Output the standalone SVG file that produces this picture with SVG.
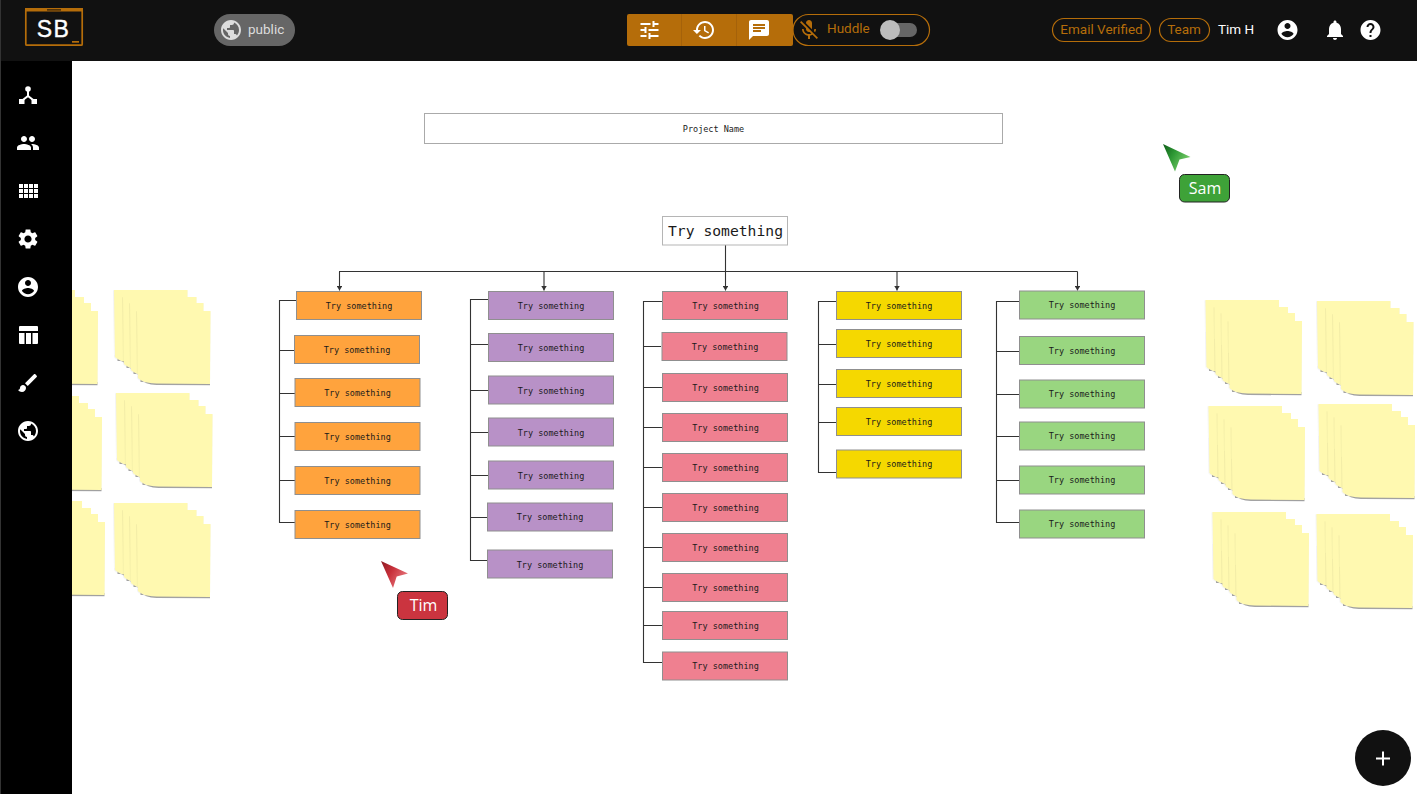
<svg xmlns="http://www.w3.org/2000/svg" width="1417" height="794" viewBox="0 0 1417 794">
<style>
.n rect{stroke:#8f8f8f;stroke-width:1}
.o rect{fill:#ffa33d}.p rect{fill:#b891c7}.r rect{fill:#ef8090}.y rect{fill:#f5d800}.g rect{fill:#99d680}
.n text{font:8.500px "DejaVu Sans Mono","Liberation Mono",monospace;fill:#1a1a1a;text-anchor:middle}
.c path{fill:none;stroke:#333;stroke-width:1.100}
.ui{font-family:Roboto,"Liberation Sans",sans-serif;font-size:13.500px}
.or{fill:#b56d0a}
.pill{fill:none;stroke:#b56d0a;stroke-width:1.200}
.w{fill:#fff}
.cur{font:16px "Open Sans","Noto Sans",sans-serif;fill:#fff;text-anchor:middle}
</style>
<defs>
<filter id="sh" x="-10%" y="-10%" width="120%" height="120%"><feDropShadow dx="-0.300" dy="0.300" stdDeviation="0.700" flood-color="#000" flood-opacity=".16"/></filter>
<g id="sheet"><path d="M4 68Q8 73.500 20 74L73.500 74.300V71H4Z" fill="#a8a8a8"/><path d="M0.500 0H74L73.500 73L20 72.500Q6 72 1.500 67Z" fill="#fff9b0" filter="url(#sh)"/></g>
<g id="stack"><use href="#sheet"/><use href="#sheet" x="9" y="7"/><use href="#sheet" x="16" y="13"/><use href="#sheet" x="23" y="21"/></g>
<marker id="a" markerWidth="5" markerHeight="5" refX="4" refY="2.500" orient="auto"><path d="M0 0L4 2.500L0 5Z" fill="#333"/></marker>
<linearGradient id="gc" x1="0" y1="0" x2="1" y2=".6"><stop offset="0" stop-color="#0d5c18"/><stop offset=".45" stop-color="#2f9a35"/><stop offset="1" stop-color="#7fd070"/></linearGradient>
<linearGradient id="rc" x1="0" y1="0" x2="1" y2=".6"><stop offset="0" stop-color="#8c1a22"/><stop offset=".45" stop-color="#c8303a"/><stop offset="1" stop-color="#e87a80"/></linearGradient>
<path id="ipublic" d="M12 2C6.480 2 2 6.480 2 12s4.480 10 10 10 10-4.480 10-10S17.520 2 12 2zm-1 17.930c-3.950-.49-7-3.850-7-7.930 0-.62.08-1.210.21-1.790L9 15v1c0 1.100.9 2 2 2v1.930zm6.900-2.540c-.26-.81-1-1.390-1.900-1.390h-1v-3c0-.55-.45-1-1-1H8v-2h2c.55 0 1-.45 1-1V7h2c1.100 0 2-.9 2-2v-.41c2.930 1.190 5 4.060 5 7.410 0 2.080-.8 3.970-2.100 5.390z"/>
<path id="iacc" d="M12 2C6.480 2 2 6.480 2 12s4.480 10 10 10 10-4.480 10-10S17.520 2 12 2zm0 3c1.660 0 3 1.340 3 3s-1.340 3-3 3-3-1.340-3-3 1.340-3 3-3zm0 14.200c-2.500 0-4.710-1.280-6-3.220.03-1.990 4-3.080 6-3.080 1.990 0 5.970 1.090 6 3.080-1.290 1.940-3.500 3.220-6 3.220z"/>
</defs>
<rect width="1417" height="794" fill="#fff"/>

<g id="stickies">
<use href="#stack" x="1" y="290"/><use href="#stack" x="5" y="396"/><use href="#stack" x="8" y="501"/>
<use href="#stack" x="113.500" y="290"/><use href="#stack" x="115.500" y="393"/><use href="#stack" x="113.500" y="503"/>
<use href="#stack" x="1205" y="300"/><use href="#stack" x="1316.500" y="301"/>
<use href="#stack" x="1208" y="406"/><use href="#stack" x="1318" y="404"/>
<use href="#stack" x="1212" y="512"/><use href="#stack" x="1316" y="514"/>
</g>

<g id="header">
<rect width="1417" height="61" fill="#111"/>
<rect y="61" width="72" height="733" fill="#000"/>
<rect width="1" height="794" fill="#333"/>
</g>

<g id="logo">
<rect x="25.800" y="8.800" width="56.400" height="36.400" fill="none" stroke="#b56d0a" stroke-width="1.700" rx="1"/>
<rect x="25" y="8" width="58" height="3.500" class="or"/>
<rect x="47" y="9.300" width="14" height="1.200" fill="#2a1c08"/>
<rect x="72" y="41" width="7" height="1.700" class="or"/>
<text x="53.500" y="37" font-family="Liberation Sans,sans-serif" font-size="23" letter-spacing="1.500" fill="#fff" stroke="#fff" stroke-width=".4" text-anchor="middle">SB</text>
</g>

<g id="public-badge">
<rect x="214" y="14" width="81" height="32" rx="16" fill="#666"/>
<use href="#ipublic" transform="translate(219 18)" fill="#ddd"/>
<text x="248" y="34" class="ui" fill="#ddd">public</text>
</g>

<g id="toolbar">
<rect x="627" y="14" width="166" height="32" rx="2" class="or"/>
<path d="M681.500 14V46M736.500 14V46" stroke="#a5620a" stroke-width="1"/>
<path class="w" transform="translate(637.500 18)" d="M3 17v2h6v-2H3zM3 5v2h10V5H3zm10 16v-2h8v-2h-8v-2h-2v6h2zM7 9v2H3v2h4v2h2V9H7zm14 4v-2H11v2h10zm-6-4h2V7h4V5h-4V3h-2v6z"/>
<path class="w" transform="translate(692 18)" d="M13 3c-4.970 0-9 4.030-9 9H1l3.890 3.890.07.14L9 12H6c0-3.870 3.130-7 7-7s7 3.130 7 7-3.130 7-7 7c-1.930 0-3.680-.79-4.940-2.060l-1.420 1.420C8.270 19.990 10.510 21 13 21c4.970 0 9-4.030 9-9s-4.030-9-9-9zm-1 5v5l4.280 2.540.72-1.210-3.500-2.080V8H12z"/>
<path class="w" transform="translate(747 18)" d="M20 2H4c-1.100 0-1.990.9-1.990 2L2 22l4-4h14c1.100 0 2-.9 2-2V4c0-1.100-.9-2-2-2zM6 9h12v2H6V9zm8 5H6v-2h8v2zm4-6H6V6h12v2z"/>
</g>

<g id="huddle">
<rect x="793" y="14.500" width="136.500" height="31" rx="15.500" class="pill"/>
<path class="or" transform="translate(797 18)" d="M19 11h-1.700c0 .74-.16 1.430-.43 2.050l1.230 1.230c.56-.98.9-2.090.9-3.280zm-4.020.17c0-.06.02-.11.02-.17V5c0-1.660-1.340-3-3-3S9 3.340 9 5v.18l5.980 5.990zM4.270 3L3 4.270l6.010 6.010V11c0 1.660 1.330 3 2.990 3 .22 0 .44-.03.65-.08l1.660 1.660c-.71.33-1.500.52-2.310.52-2.760 0-5.300-2.100-5.300-5.100H5c0 3.410 2.720 6.230 6 6.720V21h2v-3.280c.91-.13 1.770-.45 2.540-.9L19.730 21 21 19.730 4.270 3z"/>
<text x="827" y="33" class="ui or">Huddle</text>
<rect x="882" y="23" width="35" height="14" rx="7" fill="#666"/>
<circle cx="890" cy="30" r="10" fill="#bdbdbd"/>
</g>

<g id="user-bar">
<rect x="1052.500" y="18.500" width="98" height="23" rx="11.500" class="pill"/>
<text x="1101.500" y="34" class="ui or" text-anchor="middle">Email Verified</text>
<rect x="1159.500" y="18.500" width="50" height="23" rx="11.500" class="pill"/>
<text x="1184" y="34" class="ui or" text-anchor="middle">Team</text>
<text x="1218" y="34" class="ui" fill="#fff">Tim H</text>
<use href="#iacc" transform="translate(1275.500 18)" fill="#fff"/>
<path class="w" transform="translate(1323 18)" d="M12 22c1.100 0 2-.9 2-2h-4c0 1.100.89 2 2 2zm6-6v-5c0-3.070-1.640-5.640-4.500-6.320V4c0-.83-.67-1.500-1.500-1.500s-1.500.67-1.500 1.500v.68C7.630 5.360 6 7.920 6 11v5l-2 2v1h16v-1l-2-2z"/>
<path class="w" transform="translate(1358.500 18)" d="M12 2C6.480 2 2 6.480 2 12s4.480 10 10 10 10-4.480 10-10S17.520 2 12 2zm1 17h-2v-2h2v2zm2.070-7.750l-.9.92C13.450 12.900 13 13.500 13 15h-2v-.5c0-1.100.45-2.100 1.170-2.830l1.240-1.260c.37-.36.59-.86.59-1.410 0-1.100-.9-2-2-2s-2 .9-2 2H8c0-2.210 1.790-4 4-4s4 1.790 4 4c0 .88-.36 1.680-.93 2.250z"/>
</g>

<g id="sidebar-icons" fill="#fff">
<g transform="translate(16 83)"><circle cx="12" cy="6" r="2.800"/><path d="M11 8h2v4.500l4.500 3.500-1.300 1.500L12 14.200 7.800 17.500 6.500 16l4.500-3.500z"/><rect x="3" y="16" width="5.500" height="5"/><rect x="15.500" y="16" width="5.500" height="5"/></g>
<path transform="translate(16 131)" d="M16 11c1.660 0 2.990-1.340 2.990-3S17.660 5 16 5c-1.660 0-3 1.340-3 3s1.340 3 3 3zm-8 0c1.660 0 2.990-1.340 2.990-3S9.660 5 8 5C6.340 5 5 6.340 5 8s1.340 3 3 3zm0 2c-2.330 0-7 1.170-7 3.500V19h14v-2.500c0-2.330-4.670-3.500-7-3.500zm8 0c-.29 0-.62.02-.97.05 1.160.84 1.970 1.970 1.970 3.450V19h6v-2.500c0-2.330-4.670-3.500-7-3.500z"/>
<path transform="translate(19 184)" d="M0 0h4v4H0zM5 0h4v4H5zM10 0h4v4h-4zM15 0h4v4h-4zM0 5h4v4H0zM5 5h4v4H5zM10 5h4v4h-4zM15 5h4v4h-4zM0 10h4v4H0zM5 10h4v4H5zM10 10h4v4h-4zM15 10h4v4h-4z"/>
<path transform="translate(16 227)" d="M19.140 12.940c.04-.3.06-.61.06-.94 0-.32-.02-.64-.07-.94l2.030-1.580c.18-.14.23-.41.12-.61l-1.920-3.320c-.12-.22-.37-.29-.59-.22l-2.390.96c-.5-.38-1.030-.7-1.620-.94l-.36-2.540c-.04-.24-.24-.41-.48-.41h-3.840c-.24 0-.43.17-.47.41l-.36 2.540c-.59.24-1.130.57-1.620.94l-2.390-.96c-.22-.08-.47 0-.59.22L2.740 8.870c-.12.21-.08.47.12.61l2.030 1.580c-.05.3-.09.63-.09.94s.02.64.07.94l-2.030 1.580c-.18.14-.23.41-.12.61l1.920 3.320c.12.22.37.29.59.22l2.390-.96c.5.38 1.030.7 1.620.94l.36 2.540c.05.24.24.41.48.41h3.840c.24 0 .44-.17.47-.41l.36-2.540c.59-.24 1.130-.56 1.620-.94l2.390.96c.22.08.47 0 .59-.22l1.920-3.320c.12-.22.07-.47-.12-.61l-2.010-1.580zM12 15.600c-1.980 0-3.600-1.620-3.600-3.600s1.620-3.600 3.600-3.600 3.600 1.620 3.600 3.600-1.620 3.600-3.600 3.600z"/>
<use href="#iacc" transform="translate(16 275)"/>
<path transform="translate(19 326)" d="M1 0h17a1 1 0 0 1 1 1v4H0V1a1 1 0 0 1 1-1zM0 7h5.500v11H1a1 1 0 0 1-1-1zM7 7h5v11H7zM13.500 7H19v10a1 1 0 0 1-1 1h-4.500z"/>
<path transform="translate(16 371)" d="M7 14c-1.660 0-3 1.340-3 3 0 1.310-1.160 2-2 2 .92 1.220 2.490 2 4 2 2.210 0 4-1.790 4-4 0-1.660-1.340-3-3-3zm13.710-9.370l-1.340-1.340c-.39-.39-1.020-.39-1.410 0L9 12.250 11.750 15l8.960-8.960c.39-.39.39-1.030 0-1.410z"/>
<use href="#ipublic" transform="translate(16 419)"/>
</g>

<g id="project-name"><rect x="424.500" y="113.500" width="578" height="30" fill="#fff" stroke="#aaa"/><text x="713.500" y="132" font-family="DejaVu Sans Mono,monospace" font-size="8.500" fill="#1a1a1a" text-anchor="middle">Project Name</text></g>

<g id="connectors" class="c">
<path d="M339 271.500H1077.500"/>
<path d="M725.500 245V290.500" marker-end="url(#a)"/>
<path d="M339.500 271.500V290.500" marker-end="url(#a)"/>
<path d="M544 271.500V290.500" marker-end="url(#a)"/>
<path d="M897 271.500V290.500" marker-end="url(#a)"/>
<path d="M1077.500 271.500V290.500" marker-end="url(#a)"/>
<path d="M296 300.500H279.500V522.500H295M279.500 350.500H294M279.500 393.500H295M279.500 436.500H295M279.500 480.500H295"/>
<path d="M488 299.500H470.500V560.500H487M470.500 344.500H488M470.500 390.500H488M470.500 432.500H488M470.500 475.500H488M470.500 517.500H487"/>
<path d="M662 301.500H643.500V662.500H662M643.500 346.500H661M643.500 387.500H662M643.500 427.500H662M643.500 467.500H662M643.500 507.500H662M643.500 547.500H662M643.500 587.500H662M643.500 625.500H662"/>
<path d="M836 301.500H818.500V472.500H836M818.500 344.500H836M818.500 384.500H836M818.500 422.500H836"/>
<path d="M1019 301.500H996.500V522.500H1019M996.500 351.500H1019M996.500 394.500H1019M996.500 436.500H1019M996.500 480.500H1019"/>
</g>

<g id="root"><rect x="662.500" y="216.500" width="125" height="28.500" fill="#fff" stroke="#b5b5b5"/><text x="725.500" y="236" font-family="DejaVu Sans Mono,monospace" font-size="14.700" fill="#1a1a1a" text-anchor="middle">Try something</text></g>

<g class="n o">
<g id="o1"><rect x="296.500" y="291.500" width="125" height="28"/><text x="359" y="309">Try something</text></g>
<g id="o2"><rect x="294.500" y="335.500" width="125" height="28"/><text x="357" y="353">Try something</text></g>
<g id="o3"><rect x="295" y="378.500" width="125" height="28"/><text x="357.500" y="396">Try something</text></g>
<g id="o4"><rect x="295" y="422.500" width="125" height="28"/><text x="357.500" y="440">Try something</text></g>
<g id="o5"><rect x="295" y="466.500" width="125" height="28"/><text x="357.500" y="484">Try something</text></g>
<g id="o6"><rect x="295" y="510.500" width="125" height="28"/><text x="357.500" y="528">Try something</text></g>
</g>
<g class="n p">
<g id="p1"><rect x="488.500" y="291.500" width="125" height="28"/><text x="551" y="309">Try something</text></g>
<g id="p2"><rect x="488.500" y="333.500" width="125" height="28"/><text x="551" y="351">Try something</text></g>
<g id="p3"><rect x="488.500" y="376" width="125" height="28"/><text x="551" y="394">Try something</text></g>
<g id="p4"><rect x="488.500" y="418" width="125" height="28"/><text x="551" y="436">Try something</text></g>
<g id="p5"><rect x="488.500" y="461" width="125" height="28"/><text x="551" y="479">Try something</text></g>
<g id="p6"><rect x="487.500" y="503" width="125" height="28"/><text x="550" y="520">Try something</text></g>
<g id="p7"><rect x="487.500" y="550" width="125" height="28"/><text x="550" y="568">Try something</text></g>
</g>
<g class="n r">
<g id="r1"><rect x="662.500" y="291.500" width="125" height="28"/><text x="725.500" y="309">Try something</text></g>
<g id="r2"><rect x="662" y="332.500" width="125" height="28"/><text x="725" y="350">Try something</text></g>
<g id="r3"><rect x="662.500" y="373.500" width="125" height="28"/><text x="725.500" y="391">Try something</text></g>
<g id="r4"><rect x="662.500" y="413.500" width="125" height="28"/><text x="725.500" y="431">Try something</text></g>
<g id="r5"><rect x="662.500" y="453.500" width="125" height="28"/><text x="725.500" y="471">Try something</text></g>
<g id="r6"><rect x="662.500" y="493.500" width="125" height="28"/><text x="725.500" y="511">Try something</text></g>
<g id="r7"><rect x="662.500" y="533.500" width="125" height="28"/><text x="725.500" y="551">Try something</text></g>
<g id="r8"><rect x="662.500" y="573.500" width="125" height="28"/><text x="725.500" y="591">Try something</text></g>
<g id="r9"><rect x="662.500" y="611.500" width="125" height="28"/><text x="725.500" y="629">Try something</text></g>
<g id="r10"><rect x="662.500" y="652" width="125" height="28"/><text x="725.500" y="669">Try something</text></g>
</g>
<g class="n y">
<g id="y1"><rect x="836.500" y="291.500" width="125" height="28"/><text x="899" y="309">Try something</text></g>
<g id="y2"><rect x="836.500" y="329.500" width="125" height="28"/><text x="899" y="347">Try something</text></g>
<g id="y3"><rect x="836.500" y="369.500" width="125" height="28"/><text x="899" y="387">Try something</text></g>
<g id="y4"><rect x="836.500" y="407.500" width="125" height="28"/><text x="899" y="425">Try something</text></g>
<g id="y5"><rect x="836.500" y="450" width="125" height="28"/><text x="899" y="467">Try something</text></g>
</g>
<g class="n g">
<g id="g1"><rect x="1019.500" y="291" width="125" height="28"/><text x="1082" y="308">Try something</text></g>
<g id="g2"><rect x="1019.500" y="336.500" width="125" height="28"/><text x="1082" y="354">Try something</text></g>
<g id="g3"><rect x="1019.500" y="380" width="125" height="28"/><text x="1082" y="397">Try something</text></g>
<g id="g4"><rect x="1019.500" y="422" width="125" height="28"/><text x="1082" y="439">Try something</text></g>
<g id="g5"><rect x="1019.500" y="466" width="125" height="28"/><text x="1082" y="483">Try something</text></g>
<g id="g6"><rect x="1019.500" y="510" width="125" height="28"/><text x="1082" y="527">Try something</text></g>
</g>

<g id="cursor-sam"><path d="M1163 144L1190.500 157L1179.500 159.500L1175 171.500Z" fill="url(#gc)"/><rect x="1179.500" y="174.500" width="50" height="27.500" rx="5" fill="#3ea238" stroke="#222"/><text x="1205" y="194" class="cur">Sam</text></g>
<g id="cursor-tim"><path d="M381 561L408 573.500L396.700 576.500L393 588Z" fill="url(#rc)"/><rect x="397.500" y="591.500" width="50" height="28" rx="5" fill="#cb343f" stroke="#222"/><text x="423.500" y="611" class="cur">Tim</text></g>

<g id="add-button"><circle cx="1383" cy="758" r="28" fill="#111"/><path d="M1383 751.500V765.500M1376 758.500H1390" stroke="#fff" stroke-width="2"/></g>
</svg>
